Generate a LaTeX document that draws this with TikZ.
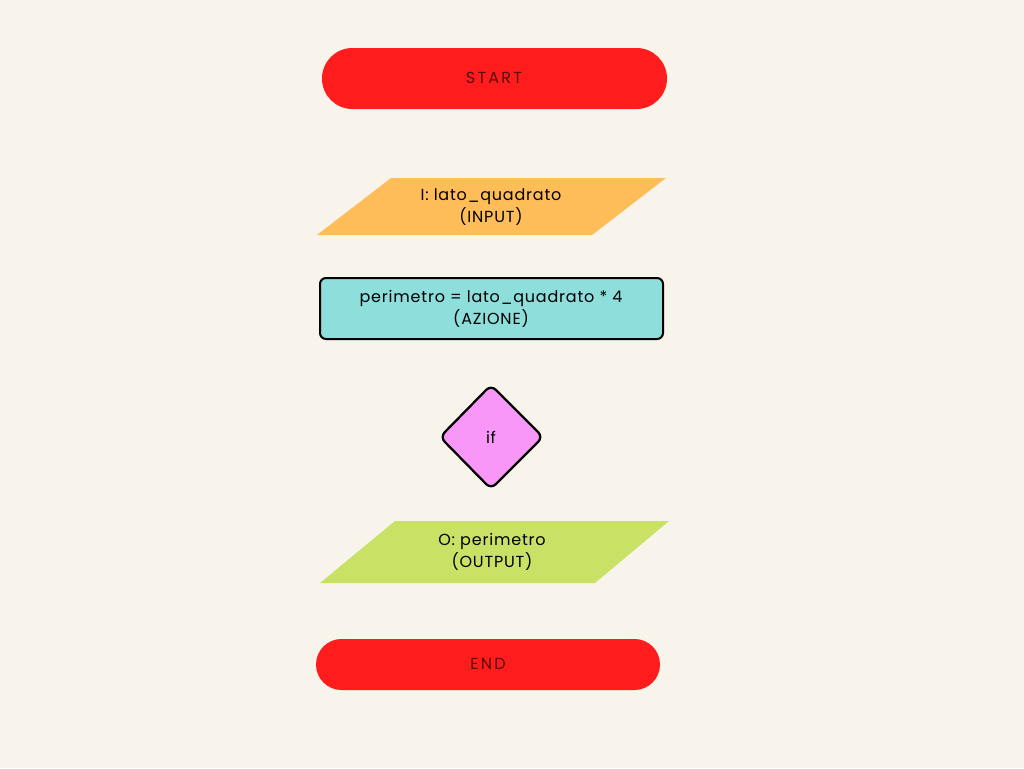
\documentclass[tikz,border=0pt]{standalone}
\usepackage{fontspec}
\setmainfont{Poppins}[LetterSpace=5]
\newfontfamily\terminalefont{Poppins}[LetterSpace=14]
\usepackage{xcolor}
\usetikzlibrary{calc}

\definecolor{sfondo}{RGB}{248,243,235}
\definecolor{rosso}{RGB}{255,28,28}
\definecolor{testorosso}{RGB}{90,12,12}
\definecolor{arancio}{RGB}{255,189,89}
\definecolor{azzurro}{RGB}{142,222,220}
\definecolor{rosa}{RGB}{249,151,249}
\definecolor{verde}{RGB}{201,226,101}

\tikzset{
    testo/.style={font=\fontsize{12}{16.5}\selectfont, align=center, text=black},
    terminale/.style={font=\terminalefont\fontsize{12}{16.5}\selectfont, text=testorosso}
}

\begin{document}
\begin{tikzpicture}[x=0.75pt,y=-0.75pt]

\fill[sfondo] (0,0) rectangle (1024,768);
\useasboundingbox (0,0) rectangle (1024,768);

% inizio
\fill[rosso, rounded corners=22.8pt] (322,48) rectangle (667,109);
\node[terminale] (start) at (494,78) {START};

% input
\fill[arancio] (391,178) -- (666,178) -- (592,235) -- (317,235) -- cycle;
\node[testo] (input) at (491,207) {I: lato\_quadrato\\(INPUT)};

% azione
\draw[fill=azzurro, line width=1.5pt, rounded corners=4.5pt] (320,278) rectangle (663,339);
\node[testo] (azione) at (491,309) {perimetro = lato\_quadrato * 4\\(AZIONE)};

% condizione
\draw[fill=rosa, line width=1.7pt, rounded corners=5pt] (491,385) -- (543,437) -- (491,489) -- (440,437) -- cycle;
\node[testo] (cond) at (491,437) {if};

% output
\fill[verde] (395,521) -- (669,521) -- (595,583) -- (320,583) -- cycle;
\node[testo] (output) at (492,552) {O: perimetro\\(OUTPUT)};

% fine
\fill[rosso, rounded corners=19.1pt] (316,639) rectangle (660,690);
\node[terminale] (fine) at (488,664) {END};

\end{tikzpicture}
\end{document}
